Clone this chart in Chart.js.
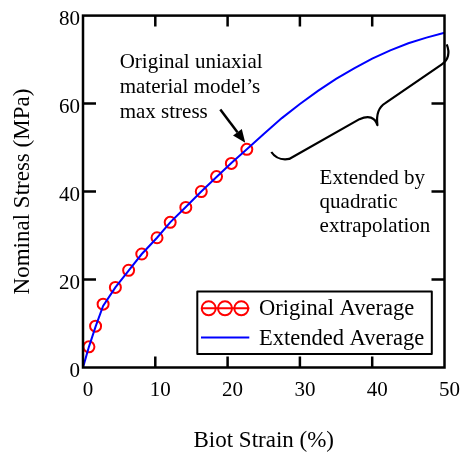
<!DOCTYPE html>
<html><head><meta charset="utf-8">
<script src="https://cdn.jsdelivr.net/npm/chart.js@4/dist/chart.umd.min.js"></script>
<style>html,body{margin:0;padding:0;background:#fff}#wrap{width:465px;height:456px}</style>
</head><body><div id="wrap"><canvas id="c" width="465" height="456"></canvas></div>
<script>
// ---- data ----
const originalStrain = [0.82, 1.74, 2.78, 4.48, 6.31, 8.13, 10.24, 12.06, 14.22, 16.36, 18.47, 20.52, 22.66];
const originalStress = [4.7, 9.4, 14.4, 18.2, 22.1, 25.8, 29.5, 33.0, 36.4, 40.0, 43.4, 46.4, 49.6];
const extendedStrain = [0, 0.4, 0.82, 1.74, 2.78, 4.48, 6.31, 8.13, 10.24, 12.06, 14.22, 16.36, 18.47, 20.52, 22.66, 25, 27.5, 30, 32.5, 35, 37.5, 40, 42.5, 45, 47.5, 50];
const extendedStress = [0, 2.3, 4.7, 9.3, 14.0, 18.2, 22.0, 25.8, 29.5, 33.0, 36.5, 40.0, 43.3, 46.5, 49.6, 53.1, 56.7, 59.9, 62.9, 65.6, 68.0, 70.2, 72.1, 73.7, 75.0, 76.1];
const xTickValues = [0, 10, 20, 30, 40, 50];
const yTickValues = [0, 20, 40, 60, 80];
const seriesNames = ['Original Average', 'Extended Average'];
const xTitle = 'Biot Strain (%)';
const yTitle = 'Nominal Stress (MPa)';
const note1 = ['Original uniaxial', 'material model\u2019s', 'max stress'];
const note2 = ['Extended by', 'quadratic', 'extrapolation'];

// annotation anchors in data units
const note1Pos = {x: 5.07, y: [68.0, 62.35, 56.7]};
const note2Pos = {x: 32.72, y: [41.8, 36.3, 30.7]};
const arrowFrom = {x: 18.99, y: 58.66};
const arrowTo = {x: 22.44, y: 51.1};
const bracePath = [
  ['M', 26.05, 48.99],
  ['Q', 26.87, 46.96, 28.52, 47.41],
  ['L', 38.24, 56.46],
  ['Q', 40.17, 57.82, 40.72, 55.11],
  ['Q', 40.44, 58.73, 41.81, 60.09],
  ['L', 49.63, 68.92],
  ['Q', 51.0, 70.5, 50.31, 73.46]
];

const FONT = "'Liberation Serif', 'Times New Roman', serif";

const annotPlugin = {
  id: 'annot',
  afterDraw(chart) {
    const {ctx, chartArea: a, scales: {x, y}} = chart;
    const X = v => x.getPixelForValue(v), Y = v => y.getPixelForValue(v);
    ctx.save();
    ctx.strokeStyle = '#000';
    ctx.fillStyle = '#000';
    ctx.lineWidth = 2.5;
    // inward ticks, mirrored
    ctx.beginPath();
    x.ticks.forEach(t => {
      if (t.value <= x.min || t.value >= x.max) return;
      const px = X(t.value);
      ctx.moveTo(px, a.bottom); ctx.lineTo(px, a.bottom - 11);
      ctx.moveTo(px, a.top); ctx.lineTo(px, a.top + 11);
    });
    y.ticks.forEach(t => {
      if (t.value <= y.min || t.value >= y.max) return;
      const py = Y(t.value);
      ctx.moveTo(a.left, py); ctx.lineTo(a.left + 13, py);
      ctx.moveTo(a.right, py); ctx.lineTo(a.right - 13, py);
    });
    ctx.stroke();
    // frame
    ctx.strokeRect(a.left, a.top, a.right - a.left, a.bottom - a.top);

    // annotation text
    ctx.font = '21px ' + FONT;
    ctx.textAlign = 'left';
    ctx.textBaseline = 'alphabetic';
    note1.forEach((s, i) => ctx.fillText(s, X(note1Pos.x), Y(note1Pos.y[i])));
    note2.forEach((s, i) => ctx.fillText(s, X(note2Pos.x), Y(note2Pos.y[i])));

    // arrow
    const x0 = X(arrowFrom.x), y0 = Y(arrowFrom.y), x1 = X(arrowTo.x), y1 = Y(arrowTo.y);
    const ang = Math.atan2(y1 - y0, x1 - x0);
    const hl = 13, hw = 5.5;
    ctx.lineWidth = 2.5;
    ctx.beginPath();
    ctx.moveTo(x0, y0);
    ctx.lineTo(x1 - hl * Math.cos(ang), y1 - hl * Math.sin(ang));
    ctx.stroke();
    ctx.beginPath();
    ctx.moveTo(x1, y1);
    ctx.lineTo(x1 - hl * Math.cos(ang) + hw * Math.sin(ang), y1 - hl * Math.sin(ang) - hw * Math.cos(ang));
    ctx.lineTo(x1 - hl * Math.cos(ang) - hw * Math.sin(ang), y1 - hl * Math.sin(ang) + hw * Math.cos(ang));
    ctx.closePath();
    ctx.fill();

    // brace
    ctx.lineWidth = 2.2;
    ctx.lineJoin = 'round';
    ctx.beginPath();
    bracePath.forEach(seg => {
      if (seg[0] === 'M') ctx.moveTo(X(seg[1]), Y(seg[2]));
      else if (seg[0] === 'L') ctx.lineTo(X(seg[1]), Y(seg[2]));
      else ctx.quadraticCurveTo(X(seg[1]), Y(seg[2]), X(seg[3]), Y(seg[4]));
    });
    ctx.stroke();

    // legend box
    const bl = a.left + 114.3, bt = a.top + 276, br = a.right - 12.7, bb = a.bottom - 13.5;
    ctx.fillStyle = '#fff';
    ctx.fillRect(bl, bt, br - bl, bb - bt);
    ctx.lineWidth = 2;
    ctx.strokeStyle = '#000';
    ctx.strokeRect(bl, bt, br - bl, bb - bt);
    const r1 = bt + 16.7, r2 = bt + 46;
    ctx.strokeStyle = '#ff0000';
    ctx.lineWidth = 2;
    ctx.beginPath(); ctx.moveTo(bl + 3.7, r1); ctx.lineTo(bl + 52, r1); ctx.stroke();
    [11.4, 27.7, 44].forEach(dx => { ctx.beginPath(); ctx.arc(bl + dx, r1, 7, 0, Math.PI * 2); ctx.stroke(); });
    ctx.strokeStyle = '#0000ff';
    ctx.beginPath(); ctx.moveTo(bl + 3.7, r2); ctx.lineTo(bl + 52, r2); ctx.stroke();
    ctx.fillStyle = '#000';
    ctx.font = '22.5px ' + FONT;
    ctx.fillText(seriesNames[0], bl + 61.7, bt + 23.3);
    ctx.fillText(seriesNames[1], bl + 61.7, bt + 53.3);
    ctx.restore();
  }
};

new Chart(document.getElementById('c'), {
  type: 'scatter',
  data: {
    datasets: [
      {
        label: seriesNames[0],
        data: originalStrain.map((v, i) => ({x: v, y: originalStress[i]})),
        showLine: false,
        pointStyle: 'circle',
        pointRadius: 5.5,
        pointBorderWidth: 2,
        pointBorderColor: '#ff0000',
        pointBackgroundColor: 'rgba(0,0,0,0)',
        borderColor: '#ff0000',
        order: 2
      },
      {
        label: seriesNames[1],
        data: extendedStrain.map((v, i) => ({x: v, y: extendedStress[i]})),
        showLine: true,
        pointRadius: 0,
        borderWidth: 2,
        borderColor: '#0000ff',
        tension: 0,
        order: 1
      }
    ]
  },
  options: {
    responsive: false,
    animation: false,
    devicePixelRatio: 1,
    layout: {padding: {top: 14, right: 17.3, bottom: 0, left: 0}},
    plugins: {legend: {display: false}, tooltip: {enabled: false}},
    scales: {
      x: {
        type: 'linear', min: 0, max: 50,
        afterBuildTicks: s => { s.ticks = xTickValues.map(v => ({value: v})); },
        afterFit: s => { s.height = 88.5; },
        grid: {display: false, drawTicks: false},
        border: {display: false},
        ticks: {color: '#000', font: {family: FONT, size: 21, lineHeight: 1.2}, padding: 10, labelOffset: 5, maxRotation: 0},
        title: {display: true, text: xTitle, color: '#000', font: {family: FONT, size: 23, lineHeight: 1}, padding: {top: 0, bottom: 4}}
      },
      y: {
        type: 'linear', min: 0, max: 80,
        afterBuildTicks: s => { s.ticks = yTickValues.map(v => ({value: v})); },
        afterFit: s => { s.width = 83; },
        grid: {display: false, drawTicks: false},
        border: {display: false},
        ticks: {color: '#000', font: {family: FONT, size: 21, lineHeight: 1.2}, padding: 3, labelOffset: 4},
        title: {display: true, text: yTitle, color: '#000', font: {family: FONT, size: 23, lineHeight: 1}, padding: {top: 11.5, bottom: 0}}
      }
    }
  },
  plugins: [annotPlugin]
});
</script>
</body></html>
